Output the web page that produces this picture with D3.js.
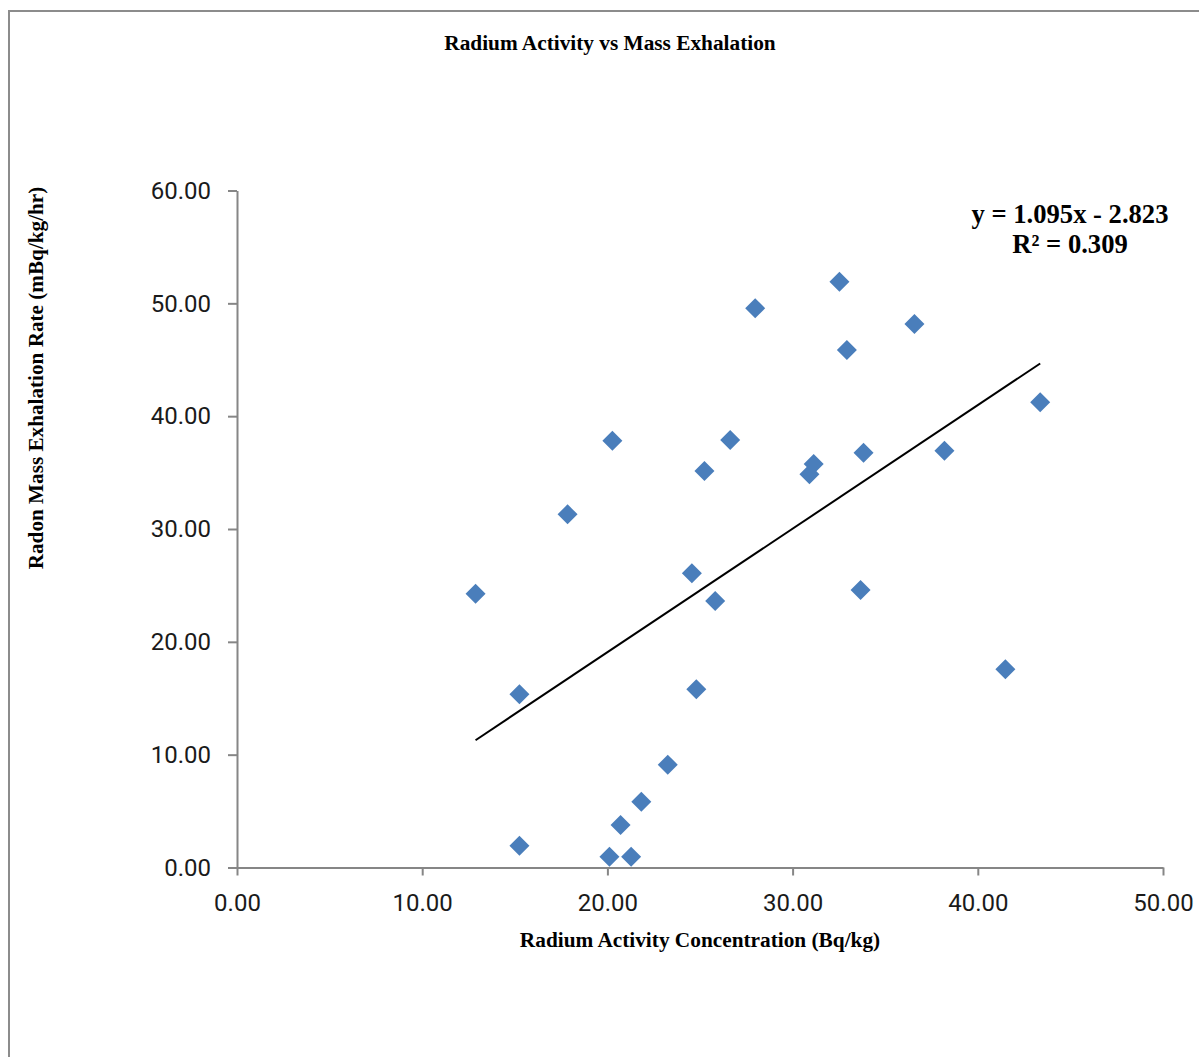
<!DOCTYPE html>
<html lang="en">
<head>
  <meta charset="UTF-8">
  <title>Radium Activity vs Mass Exhalation</title>
  <script src="https://d3js.org/d3.v7.min.js"></script>
  <style>
    body { margin: 0; background: #fff; }
    .axis path, .axis line { stroke: #868686; stroke-width: 2; }
    .axis text { font-family: Roboto, "Open Sans", sans-serif; font-size: 24px; fill: #1a1a1a; }
    .title, .axis-title, .trend-label {
      font-family: "Liberation Serif", "Times New Roman", serif;
      font-weight: bold;
      fill: #000;
    }
    .point { fill: #4a7ebb; }
    .trend { stroke: #000; stroke-width: 2; fill: none; }
  </style>
</head>
<body>
  <div id="chart"></div>

  <script>
    // Radium activity concentration (Bq/kg) and radon mass exhalation rate (mBq/kg/hr)
    const radiumActivity = [12.88, 15.25, 15.25, 17.85, 20.27, 20.11, 21.28, 20.71, 21.83, 23.26,
                            24.56, 24.80, 25.24, 25.82, 26.63, 27.98, 30.91, 31.14, 32.53, 32.93,
                            33.67, 33.83, 36.58, 38.20, 41.49, 43.37];
    const exhalationRate = [24.27, 15.35, 1.93, 31.30, 37.83, 0.96, 0.96, 3.77, 5.83, 9.11,
                            26.07, 15.79, 35.14, 23.62, 37.89, 49.56, 34.85, 35.76, 51.92, 45.87,
                            24.59, 36.76, 48.17, 36.94, 17.57, 41.23];

    // linear trendline as shown on the chart
    const trendSlope = 1.095;
    const trendIntercept = -2.823;
    const trendR2 = 0.309;

    const xTicks = [0, 10, 20, 30, 40, 50];
    const yTicks = [0, 10, 20, 30, 40, 50, 60];

    const width = 1199, height = 1057;
    const plot = { left: 237, right: 1163, top: 190.5, bottom: 867.5 };

    const svg = d3.select("#chart")
                  .append("svg")
                  .attr("width", width)
                  .attr("height", height);

    // outer frame
    svg.append("rect")
       .attr("x", 9)
       .attr("y", 11)
       .attr("width", width + 20)
       .attr("height", height + 20)
       .attr("fill", "none")
       .attr("stroke", "#8c8c8c")
       .attr("stroke-width", 2);

    const x = d3.scaleLinear()
                .domain([0, 50])
                .range([plot.left, plot.right]);

    const y = d3.scaleLinear()
                .domain([0, 60])
                .range([plot.bottom, plot.top]);

    const fmt = d3.format(".2f");

    // x axis
    svg.append("g")
       .attr("class", "axis")
       .attr("transform", `translate(0,${plot.bottom})`)
       .call(d3.axisBottom(x).tickValues(xTicks).tickFormat(fmt).tickSize(8).tickPadding(18).tickSizeOuter(0));

    // y axis
    svg.append("g")
       .attr("class", "axis")
       .attr("transform", `translate(${plot.left},0)`)
       .call(d3.axisLeft(y).tickValues(yTicks).tickFormat(fmt).tickSize(9).tickPadding(17).tickSizeOuter(0));

    // trendline over the range of the data
    const xMin = d3.min(radiumActivity), xMax = d3.max(radiumActivity);
    svg.append("line")
       .attr("class", "trend")
       .attr("x1", x(xMin))
       .attr("y1", y(trendSlope * xMin + trendIntercept))
       .attr("x2", x(xMax))
       .attr("y2", y(trendSlope * xMax + trendIntercept));

    // points (diamonds)
    const points = radiumActivity.map((v, i) => ({ x: v, y: exhalationRate[i] }));
    svg.selectAll(".point")
       .data(points)
       .enter()
       .append("path")
       .attr("class", "point")
       .attr("d", d3.symbol(d3.symbolSquare, 200))
       .attr("transform", d => `translate(${x(d.x)},${y(d.y)}) rotate(45)`);

    // titles
    svg.append("text")
       .attr("class", "title")
       .attr("x", 610)
       .attr("y", 50)
       .attr("text-anchor", "middle")
       .style("font-size", "21.3px")
       .text("Radium Activity vs Mass Exhalation");

    svg.append("text")
       .attr("class", "axis-title")
       .attr("x", (plot.left + plot.right) / 2)
       .attr("y", 947)
       .attr("text-anchor", "middle")
       .style("font-size", "21.3px")
       .text("Radium Activity Concentration (Bq/kg)");

    svg.append("text")
       .attr("class", "axis-title")
       .attr("transform", "translate(43,378) rotate(-90)")
       .attr("text-anchor", "middle")
       .style("font-size", "21.2px")
       .text("Radon Mass Exhalation Rate (mBq/kg/hr)");

    // trendline equation
    const eq = svg.append("text")
                  .attr("class", "trend-label")
                  .attr("text-anchor", "middle")
                  .style("font-size", "26.6px");
    eq.append("tspan")
      .attr("x", 1070)
      .attr("y", 223)
      .text(`y = ${trendSlope}x - ${Math.abs(trendIntercept)}`);
    eq.append("tspan")
      .attr("x", 1070)
      .attr("y", 253)
      .text(`R² = ${trendR2}`);
  </script>
</body>
</html>
